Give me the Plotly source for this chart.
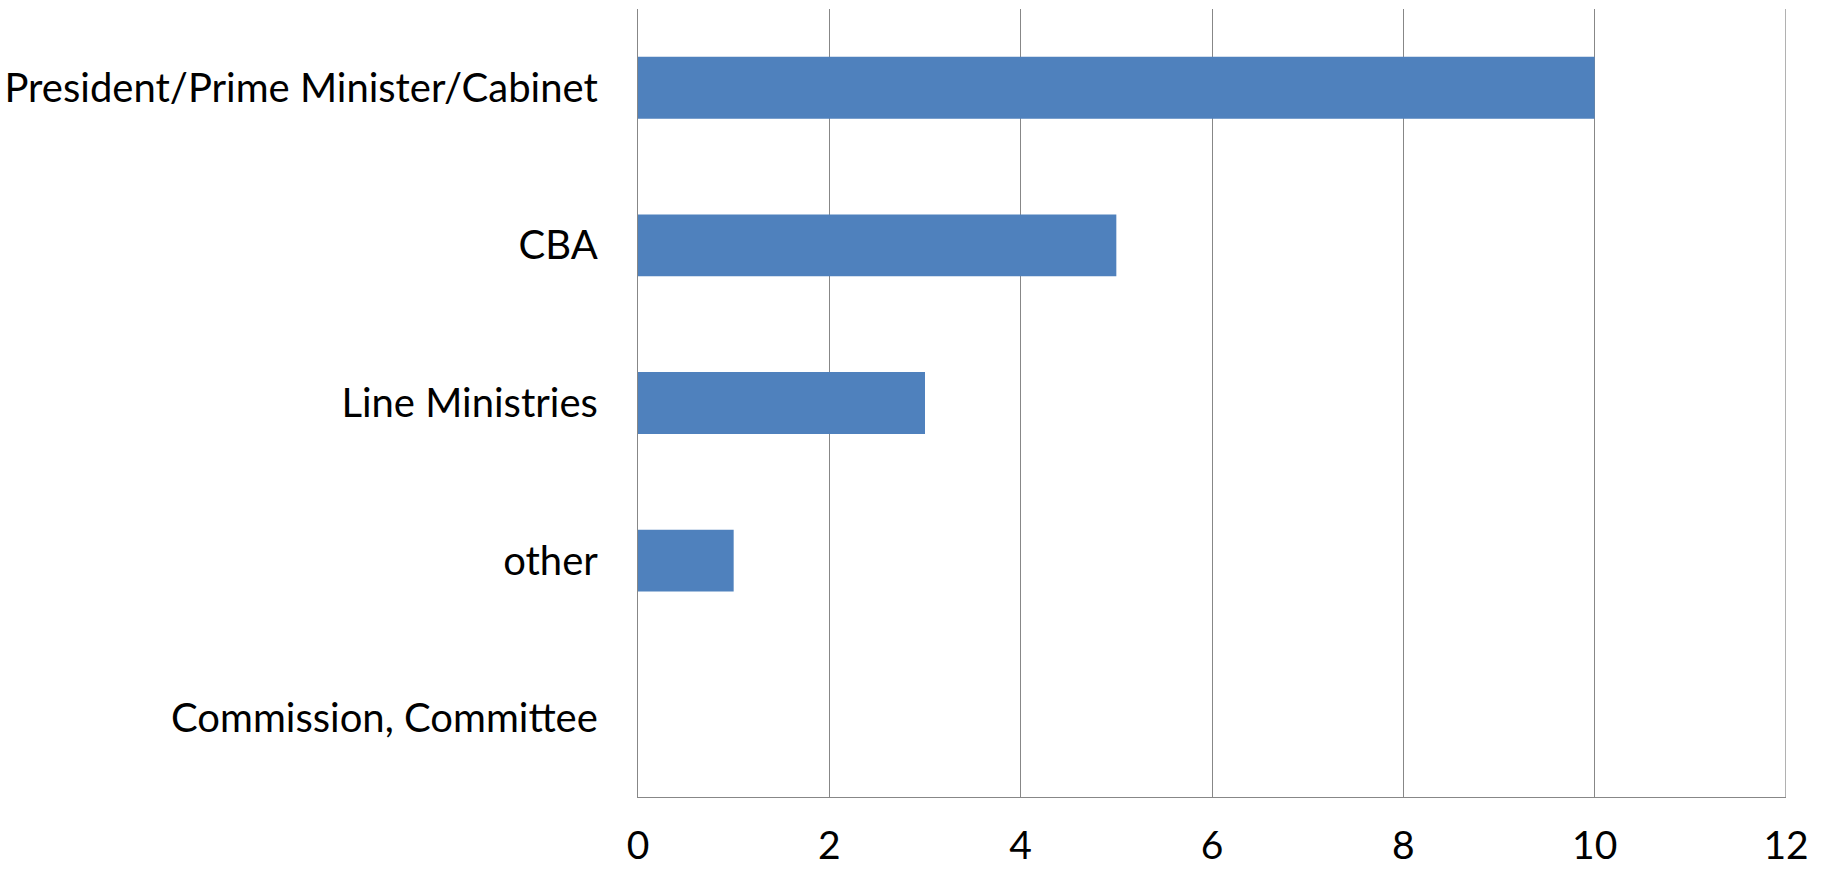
import plotly.graph_objects as go

# Responses by body (horizontal bars, first category on top)
categories = [
    "President/Prime Minister/Cabinet",
    "CBA",
    "Line Ministries",
    "other",
    "Commission, Committee",
]
counts = [10, 5, 3, 1, 0]
x_ticks = [0, 2, 4, 6, 8, 10, 12]

BAR_COLOR = "#4F81BD"
GRID_COLOR = "#878787"
FONT = "Lato, Carlito, Calibri, sans-serif"

fig = go.Figure(
    go.Bar(
        x=counts,
        y=categories,
        orientation="h",
        width=0.393,
        marker=dict(color=BAR_COLOR, line=dict(width=0)),
        hoverinfo="x+y",
    )
)

fig.update_layout(
    width=1825,
    height=869,
    margin=dict(l=638, r=39, t=9, b=72),
    paper_bgcolor="white",
    plot_bgcolor="white",
    showlegend=False,
    font=dict(family=FONT, size=40, color="black"),
)

fig.update_xaxes(
    range=[0, 12],
    tickvals=x_ticks,
    ticktext=[str(v) for v in x_ticks],
    showgrid=True,
    gridcolor=GRID_COLOR,
    gridwidth=1.3,
    showline=True,
    linecolor=GRID_COLOR,
    linewidth=1.3,
    zeroline=False,
    ticks="",
    automargin=False,
    ticklabelstandoff=14,
    tickfont=dict(family=FONT, size=39, color="black"),
)

fig.update_yaxes(
    categoryorder="array",
    categoryarray=categories[::-1],
    showgrid=False,
    showline=True,
    linecolor=GRID_COLOR,
    linewidth=1.3,
    zeroline=False,
    ticks="",
    automargin=False,
    ticklabelstandoff=31,
    tickfont=dict(family=FONT, size=40, color="black"),
)

# Gridline at the right end of the value axis
fig.add_shape(
    type="line",
    xref="x",
    yref="paper",
    x0=x_ticks[-1],
    x1=x_ticks[-1],
    y0=0,
    y1=1,
    line=dict(color=GRID_COLOR, width=1.3),
    layer="below",
)

fig.write_html("out.html")
